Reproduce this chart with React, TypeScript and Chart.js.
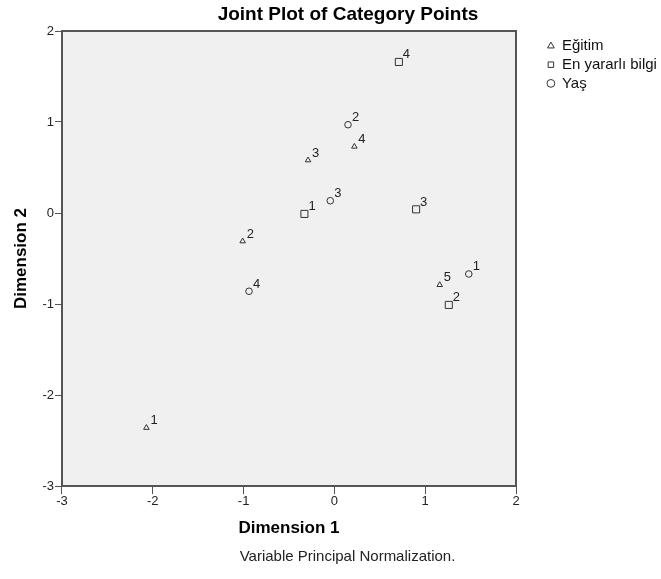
import React, { useEffect, useRef } from 'react';
import { Chart, registerables } from 'chart.js';

Chart.register(...registerables);

const FONT = '"Liberation Sans", Arial, Helvetica, sans-serif';

const titleText = 'Joint Plot of Category Points';
const captionText = 'Variable Principal Normalization.';
const xAxisTitle = 'Dimension 1';
const yAxisTitle = 'Dimension 2';

const seriesNames = ['Eğitim', 'En yararlı bilgi', 'Yaş'];
const seriesStyles = ['triangle', 'rect', 'circle'];

const egitimX = [-2.07, -1.01, -0.29, 0.22, 1.16];
const egitimY = [-2.36, -0.31, 0.58, 0.73, -0.79];
const egitimLabels = ['1', '2', '3', '4', '5'];

const bilgiX = [-0.33, 1.26, 0.9, 0.71];
const bilgiY = [-0.01, -1.01, 0.04, 1.66];
const bilgiLabels = ['1', '2', '3', '4'];

const yasX = [1.48, 0.15, -0.045, -0.94];
const yasY = [-0.67, 0.97, 0.135, -0.86];
const yasLabels = ['1', '2', '3', '4'];

const xTicks = [-3, -2, -1, 0, 1, 2];
const yTicks = [-3, -2, -1, 0, 1, 2];

const seriesX = [egitimX, bilgiX, yasX];
const seriesY = [egitimY, bilgiY, yasY];
const seriesLabels = [egitimLabels, bilgiLabels, yasLabels];
const markerRadius = [3.2, 5, 3.3];

const plotFramePlugin = {
  id: 'plotFrame',
  beforeDraw(chart: any) {
    const { ctx, chartArea: a } = chart;
    ctx.save();
    ctx.fillStyle = '#f0f0f0';
    ctx.fillRect(a.left, a.top, a.right - a.left, a.bottom - a.top);
    ctx.restore();
  },
  afterDatasetsDraw(chart: any) {
    const { ctx, chartArea: a } = chart;
    ctx.save();
    ctx.strokeStyle = '#555';
    ctx.lineWidth = 2;
    ctx.beginPath();
    ctx.moveTo(a.left, a.top);
    ctx.lineTo(a.right, a.top);
    ctx.lineTo(a.right, a.bottom);
    ctx.stroke();
    ctx.restore();
  },
};

const pointLabelPlugin = {
  id: 'pointLabels',
  afterDatasetsDraw(chart: any) {
    const ctx = chart.ctx;
    ctx.save();
    ctx.font = `13px ${FONT}`;
    ctx.fillStyle = '#222';
    ctx.textAlign = 'left';
    ctx.textBaseline = 'alphabetic';
    chart.data.datasets.forEach((ds: any, i: number) => {
      const meta = chart.getDatasetMeta(i);
      meta.data.forEach((pt: any, j: number) => {
        ctx.fillText(seriesLabels[i][j], pt.x + 4, pt.y - 3.5);
      });
    });
    ctx.restore();
  },
};

const textPlugin = {
  id: 'texts',
  afterDraw(chart: any) {
    const ctx = chart.ctx;
    ctx.save();
    ctx.fillStyle = '#000';
    ctx.textAlign = 'center';
    ctx.textBaseline = 'middle';
    ctx.font = `bold 19px ${FONT}`;
    ctx.fillText(titleText, 348, 15);
    ctx.fillStyle = '#222';
    ctx.font = `15px ${FONT}`;
    ctx.fillText(captionText, 347.5, 557);
    ctx.restore();
  },
};

export default function App() {
  const ref = useRef<HTMLCanvasElement | null>(null);

  useEffect(() => {
    if (!ref.current) return;
    const datasets = seriesNames.map((name, i) => ({
      label: name,
      data: seriesX[i].map((x, j) => ({ x, y: seriesY[i][j] })),
      pointStyle: seriesStyles[i],
      pointRadius: markerRadius[i],
      pointHoverRadius: markerRadius[i],
      backgroundColor: 'rgba(0,0,0,0)',
      borderColor: '#333',
      borderWidth: 1,
      showLine: false,
    }));

    const chart = new Chart(ref.current, {
      type: 'scatter',
      data: { datasets },
      options: {
        responsive: false,
        animation: false,
        devicePixelRatio: 1,
        layout: { padding: { left: 0, right: 0, top: 31, bottom: 30 } },
        plugins: {
          title: { display: false },
          tooltip: { enabled: false },
          legend: {
            display: true,
            position: 'right',
            align: 'start',
            fullSize: false,
            maxWidth: 117.3,
            title: { display: true, text: '', font: { size: 1 }, padding: { top: 2.6, bottom: 0 } },
            labels: {
              usePointStyle: true,
              boxWidth: 7,
              boxHeight: 5.5,
              padding: 3.7,
              color: '#111',
              font: { size: 15, family: FONT },
            },
          },
        },
        scales: {
          x: {
            type: 'linear',
            position: 'bottom',
            min: -3,
            max: 2,
            afterBuildTicks: (s: any) => {
              s.ticks = xTicks.map((v) => ({ value: v }));
            },
            ticks: { color: '#222', font: { size: 13, family: FONT }, padding: 0 },
            grid: { display: true, drawOnChartArea: false, drawTicks: true, tickLength: 8, color: '#555', lineWidth: 1 },
            border: { display: true, color: '#555', width: 2 },
            title: {
              display: true,
              text: xAxisTitle,
              color: '#000',
              font: { size: 17, weight: 'bold', family: FONT },
              padding: { top: 8.3, bottom: 10.7 },
            },
          },
          y: {
            type: 'linear',
            position: 'left',
            min: -3,
            max: 2,
            afterBuildTicks: (s: any) => {
              s.ticks = yTicks.map((v) => ({ value: v }));
            },
            ticks: { color: '#222', font: { size: 13, family: FONT }, padding: 1 },
            grid: { display: true, drawOnChartArea: false, drawTicks: true, tickLength: 7, color: '#555', lineWidth: 1 },
            border: { display: true, color: '#555', width: 2 },
            title: {
              display: true,
              text: yAxisTitle,
              color: '#000',
              font: { size: 17, weight: 'bold', family: FONT },
              padding: { top: 11, bottom: 10 },
            },
          },
          spacer: {
            type: 'linear',
            position: 'right',
            display: true,
            grid: { display: false },
            border: { display: false },
            ticks: { display: false },
            afterFit: (s: any) => {
              s.width = 27.7;
            },
          },
        },
      },
      plugins: [plotFramePlugin, pointLabelPlugin, textPlugin],
    } as any);

    return () => chart.destroy();
  }, []);

  return (
    <div style={{ position: 'absolute', left: 0, top: 0, width: 661, height: 579 }}>
      <canvas ref={ref} width={661} height={579} style={{ width: 661, height: 579, display: 'block' }} />
    </div>
  );
}
